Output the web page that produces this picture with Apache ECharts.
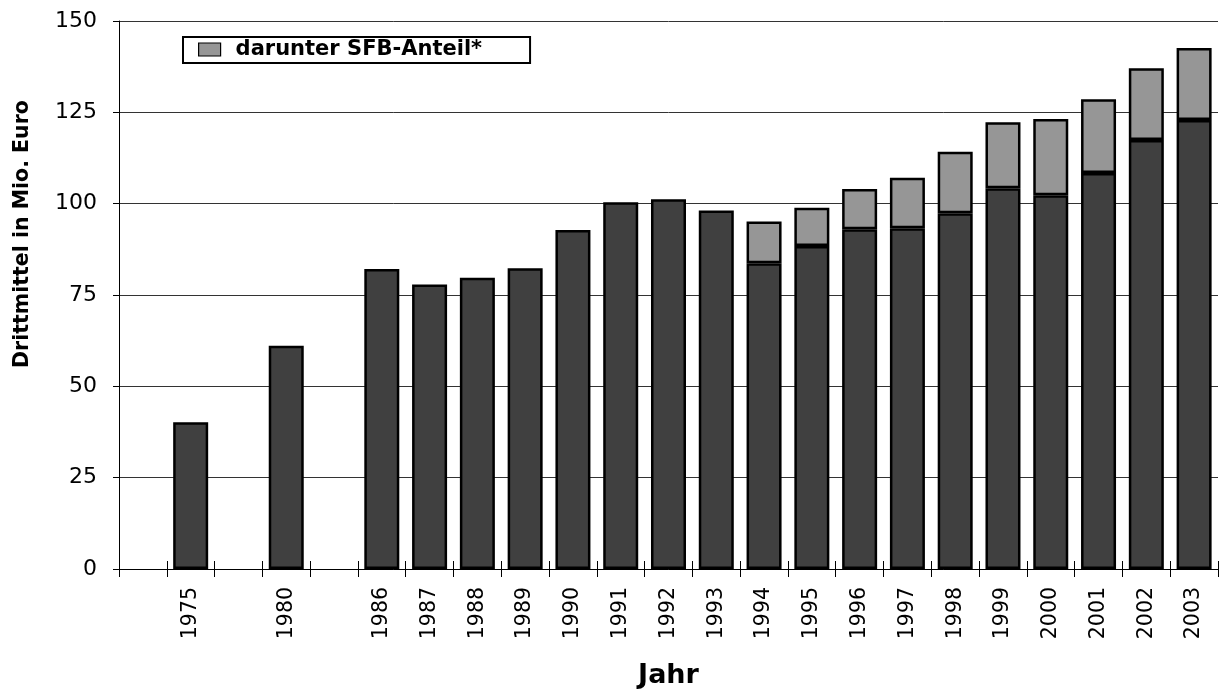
<!DOCTYPE html>
<html>
<head>
<meta charset="utf-8">
<script src="https://cdn.jsdelivr.net/npm/echarts@6/dist/echarts.min.js"></script>
<style>
html,body{margin:0;padding:0;background:#fff;}
#chart{width:1221px;height:692px;}
</style>
</head>
<body>
<div id="chart"></div>
<script>
// Categories (empty slots are gaps in the year sequence)
const years = ['', '1975', '', '1980', '', '1986', '1987', '1988', '1989', '1990', '1991', '1992', '1993',
  '1994', '1995', '1996', '1997', '1998', '1999', '2000', '2001', '2002', '2003'];
// Drittmittel without SFB share (dark part), Mio. Euro
const drittmittelOhneSfb = [null, 40.2, null, 61.1, null, 82.1, 77.9, 79.7, 82.3, 92.8, 100.4, 101.2, 98.1,
  83.7, 88.4, 93.0, 93.3, 97.4, 104.2, 102.3, 108.4, 117.4, 122.9];
// SFB share (light part), Mio. Euro
const sfbAnteil = [null, null, null, null, null, null, null, null, null, null, null, null, null,
  11.4, 10.5, 11.0, 13.8, 16.8, 18.1, 20.9, 20.2, 19.7, 19.7];
const yTicks = [0, 25, 50, 75, 100, 125, 150];

const FONT = 'DejaVu Sans';
const chart = echarts.init(document.getElementById('chart'));
chart.setOption({
  animation: false,
  backgroundColor: '#ffffff',
  grid: { left: 119, right: 3, top: 21, bottom: 123, containLabel: false, outerBoundsMode: 'none' },
  legend: {
    data: [{ name: 'darunter SFB-Anteil*', icon: 'rect' }],
    left: 183, top: 37,
    orient: 'horizontal',
    padding: [2, 48, 3, 15],
    borderColor: '#000', borderWidth: 2,
    itemWidth: 22, itemHeight: 13,
    itemStyle: { borderColor: '#000', borderWidth: 1.2 },
    textStyle: { fontFamily: FONT, fontWeight: 'bold', fontSize: 21, color: '#000', padding: [0, 0, 0, 10] },
    selectedMode: false
  },
  xAxis: [{
    type: 'category',
    data: years,
    boundaryGap: true,
    axisLine: { lineStyle: { color: '#000', width: 1 } },
    axisTick: { show: true, inside: false, length: 8, interval: 0, lineStyle: { color: '#000' } },
    axisLabel: { interval: 0, rotate: 90, margin: 18, fontFamily: FONT, fontSize: 20.5, color: '#000' },
    name: 'Jahr',
    nameLocation: 'middle',
    nameGap: 93,
    nameTextStyle: { fontFamily: FONT, fontWeight: 'bold', fontSize: 27, color: '#000' }
  }, {
    type: 'category',
    data: years,
    position: 'bottom',
    boundaryGap: true,
    axisLine: { show: false },
    axisTick: { show: true, inside: true, length: 8, interval: 0, lineStyle: { color: '#000' } },
    axisLabel: { show: false }
  }],
  yAxis: {
    type: 'value',
    min: yTicks[0], max: yTicks[yTicks.length - 1], interval: 25,
    axisLine: { show: true, lineStyle: { color: '#000', width: 1 } },
    axisTick: { show: true, inside: false, length: 6, lineStyle: { color: '#000' } },
    axisLabel: { margin: 22, fontFamily: FONT, fontSize: 22, color: '#000' },
    splitLine: { show: true, lineStyle: { color: '#333', width: 1 } }
  },
  graphic: [{
    type: 'text',
    x: 23, y: 234,
    rotation: Math.PI / 2,
    style: {
      text: 'Drittmittel in Mio. Euro',
      fontFamily: FONT, fontWeight: 'bold', fontSize: 20.5, fill: '#000',
      align: 'center', verticalAlign: 'middle'
    }
  }],
  series: [{
    name: 'Drittmittel',
    type: 'bar',
    stack: 'total',
    xAxisIndex: 0,
    data: drittmittelOhneSfb,
    barWidth: 35,
    itemStyle: { color: '#404040', borderColor: '#000', borderWidth: 2.5 }
  }, {
    name: 'darunter SFB-Anteil*',
    type: 'bar',
    stack: 'total',
    xAxisIndex: 0,
    data: sfbAnteil,
    barWidth: 35,
    itemStyle: { color: '#969696', borderColor: '#000', borderWidth: 2.5 }
  }]
});
</script>
</body>
</html>
